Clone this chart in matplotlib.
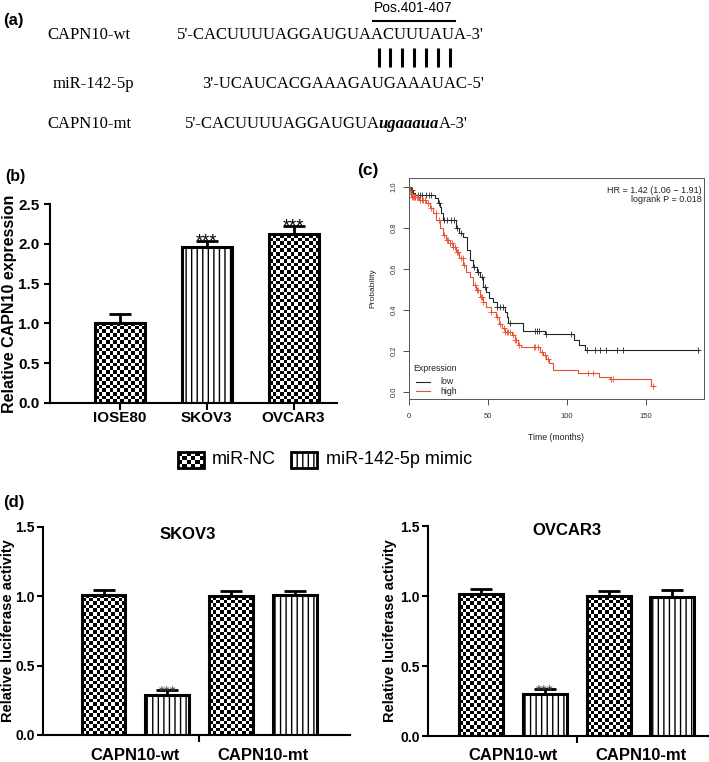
import numpy as np
import matplotlib
matplotlib.use("Agg")
import matplotlib.pyplot as plt
from matplotlib.patches import Rectangle

plt.rcParams['font.family'] = ['Liberation Sans', 'DejaVu Sans']
plt.rcParams['hatch.linewidth'] = 1.0

# ---- data ----
# (a) sequences
wt_name, mir_name, mt_name = 'CAPN10-wt', 'miR-142-5p', 'CAPN10-mt'
wt_pre, wt_site, wt_post = "5'-CACUUUUAGGAUGUA", "ACUUUAU", "A-3'"
mir_seq = "3'-UCAUCACGAAAGAUGAAAUAC-5'"
mt_pre, mt_site, mt_post = "5'-CACUUUUAGGAUGUA", "ugaaaua", "A-3'"
site_label = 'Pos.401-407'

# (b) qPCR
cells = ['IOSE80', 'SKOV3', 'OVCAR3']
capn10_expr = [1.01, 1.965, 2.12]
capn10_sd = [0.11, 0.07, 0.10]
capn10_sig = ['', '***', '***']

# (c) Kaplan-Meier, step times / survival after the step
low_t = [0, 1, 2.5, 4, 16.5, 18.5, 19.5, 20.5, 21.5, 30, 32, 34.5, 36.5, 38.5, 40.5, 43,
         45, 47, 49, 50.5, 53, 55.5, 61, 62, 63, 72.5, 86, 104.5, 108, 111.5]
low_s = [1.0, 0.985, 0.97, 0.96, 0.945, 0.92, 0.904, 0.875, 0.84, 0.80, 0.775, 0.758, 0.693,
         0.644, 0.611, 0.585, 0.562, 0.514, 0.49, 0.457, 0.44, 0.415, 0.39, 0.367, 0.336,
         0.30, 0.283, 0.254, 0.229, 0.205]
low_end = 184
low_cens = [2, 5.5, 7, 8, 11, 12.5, 14, 19, 22, 24, 26.5, 28.5, 30.5, 33, 41.5, 43.5, 44,
            46.5, 48, 55.5, 57.5, 59.5, 64, 80, 81, 82.5, 87, 103, 112.6, 117.9, 121, 124.8,
            131.6, 135.6, 183]
high_t = [0, 0.5, 1, 2, 6.5, 11, 13, 15, 17.2, 19.4, 21.5, 23.6, 25.7, 27.8, 30, 32, 34.2,
          36.3, 38.4, 40.5, 42.6, 44.7, 46.8, 49, 52, 55.3, 57, 59, 61, 65, 67, 69, 71, 83,
          85, 87, 89, 91, 107, 120.5, 127.5, 153.7]
high_s = [1.0, 0.985, 0.965, 0.953, 0.937, 0.92, 0.896, 0.872, 0.839, 0.80, 0.766, 0.741,
          0.727, 0.709, 0.685, 0.653, 0.62, 0.587, 0.562, 0.522, 0.498, 0.465, 0.44, 0.416,
          0.392, 0.367, 0.33, 0.31, 0.295, 0.278, 0.254, 0.229, 0.219, 0.197, 0.18, 0.161,
          0.14, 0.107, 0.094, 0.075, 0.063, 0.029]
high_end = 156
high_cens = [0.5, 1, 1.5, 2, 2.5, 3, 3.5, 4, 5, 6, 7, 8, 9, 10, 12, 14, 17, 19, 22, 24, 25,
             26, 27, 28, 29, 30.5, 31, 33, 34, 35, 42, 43, 44, 45.5, 46, 47, 52, 56, 58, 60,
             61, 62, 63, 64, 66, 67, 68, 70, 79, 80, 82, 84, 86, 88, 113.5, 116.5, 128, 129,
             154.7]
km_groups = ['low', 'high']
hr_text = 'HR = 1.42 (1.06 \u2212 1.91)\nlogrank P = 0.018'

# (d) luciferase
groups = ['CAPN10-wt', 'CAPN10-mt']
legend_labels = ['miR-NC', 'miR-142-5p mimic']
skov3_nc, skov3_nc_sd = [1.01, 1.00], [0.035, 0.038]
skov3_mimic, skov3_mimic_sd = [0.288, 1.01], [0.037, 0.025]
ovcar3_nc, ovcar3_nc_sd = [1.012, 1.00], [0.038, 0.036]
ovcar3_mimic, ovcar3_mimic_sd = [0.298, 0.99], [0.038, 0.053]

W, H = 709, 762
fig = plt.figure(figsize=(W / 100, H / 100), dpi=100)


def rect(x0, y0, x1, y1):
    # pixel box (y from top) -> figure fraction
    return [x0 / W, 1 - y1 / H, (x1 - x0) / W, (y1 - y0) / H]


def checker_fill(ax, x0, x1, y0, y1, cell=3.6, z=1.5):
    p0 = ax.transData.transform((x0, y0))
    p1 = ax.transData.transform((x1, y1))
    nx = max(1, int(round(abs(p1[0] - p0[0]) / cell)))
    ny = max(1, int(round(abs(p1[1] - p0[1]) / cell)))
    grid = np.indices((ny, nx)).sum(axis=0) % 2
    ax.imshow(grid, cmap='binary', vmin=0, vmax=1, extent=(x0, x1, y0, y1), origin='lower',
              aspect='auto', interpolation='nearest', zorder=z)


def prism_axes(ax, ylim, yticks, lab_size, pad=3.5):
    ax.spines['top'].set_visible(False)
    ax.spines['right'].set_visible(False)
    for s in ('left', 'bottom'):
        ax.spines[s].set_linewidth(1.5)
    ax.set_ylim(*ylim)
    ax.set_yticks(yticks)
    ax.set_yticklabels(['%.1f' % v for v in yticks], fontweight='bold', fontsize=lab_size)
    ax.tick_params(axis='both', which='major', width=1.5, length=5, direction='out')
    ax.tick_params(axis='y', length=4, pad=pad)


# ---- (a) ----
ax_a = fig.add_axes([0, 0, 1, 1], zorder=-1)
ax_a.set_xlim(0, W)
ax_a.set_ylim(H, 0)
ax_a.axis('off')
seq_font = dict(family='Liberation Serif', fontsize=12, va='center')
ax_a.text(3, 20, '(a)', fontweight='bold', fontsize=12, va='center')
ax_a.text(47, 35, wt_name, **seq_font)
ax_a.text(53, 84, mir_name, **seq_font)
ax_a.text(47, 124, mt_name, **seq_font)

ax_a.text(177, 35, wt_pre + wt_site + wt_post, **seq_font)
ax_a.text(202, 84, mir_seq, **seq_font)

fig.canvas.draw()
renderer = fig.canvas.get_renderer()


def text_w(s, **kw):
    tmp = ax_a.text(0, 0, s, **kw)
    w = tmp.get_window_extent(renderer).width
    tmp.remove()
    return w


# site chars of the wild type: overline + pairing bars
edges = [177 + text_w(wt_pre + wt_site[:k], **seq_font) for k in range(len(wt_site) + 1)]
ax_a.plot([edges[0] + 1, edges[-1]], [21, 21], color='black', lw=1.5)
ax_a.text((edges[0] + edges[-1]) / 2, 8, site_label, fontsize=10, ha='center', va='center')
for k in range(len(wt_site)):
    xc = (edges[k] + edges[k + 1]) / 2 + 0.5
    ax_a.plot([xc, xc], [48, 67], color='black', lw=2.2, solid_capstyle='butt')

# mutant: bold italic site
x = 185
ax_a.text(x, 124, mt_pre, **seq_font)
x += text_w(mt_pre, **seq_font) - 1.5
ax_a.text(x, 124, mt_site, fontweight='bold', fontstyle='italic', **seq_font)
x += text_w(mt_site, fontweight='bold', fontstyle='italic', **seq_font) - 0.5
ax_a.text(x, 124, mt_post, **seq_font)

ax_a.text(5, 176, '(b)', fontweight='bold', fontsize=11.5, va='center')
ax_a.text(357, 170, '(c)', fontweight='bold', fontsize=12.5, va='center')
ax_a.text(3, 503, '(d)', fontweight='bold', fontsize=12, va='center')

# ---- (b) ----
ax_b = fig.add_axes(rect(50, 204, 337, 403))
prism_axes(ax_b, (0, 2.5), np.arange(0, 2.51, 0.5), 11)
xb = np.arange(len(cells))
ax_b.set_xlim(-0.8, 2.5)
bw = 0.575
bars = ax_b.bar(xb, capn10_expr, width=bw, color='white', edgecolor='black', linewidth=2.2, zorder=2)
bars[1].set_hatch('|||')
for i in (0, 2):
    bars[i].set_facecolor('none')
    checker_fill(ax_b, xb[i] - bw / 2, xb[i] + bw / 2, 0, capn10_expr[i])
ax_b.errorbar(xb, capn10_expr, yerr=[np.zeros(len(cells)), capn10_sd], fmt='none', ecolor='black',
              elinewidth=2, capsize=8, capthick=2, zorder=1)
for i, s in enumerate(capn10_sig):
    if s:
        ax_b.annotate(s, xy=(xb[i], capn10_expr[i] + capn10_sd[i]), xytext=(0, -4),
                      textcoords='offset points', ha='center', va='baseline', fontsize=13)
ax_b.set_xlim(-0.8, 2.5)
ax_b.set_ylim(0, 2.5)
ax_b.set_xticks(xb)
ax_b.set_xticklabels(cells, fontweight='bold', fontsize=11)
ax_b.tick_params(axis='x', pad=1)
ax_b.set_ylabel('Relative CAPN10 expression', fontweight='bold', fontsize=11.5)
ax_b.yaxis.set_label_coords(-33 / 287, 0.5)

# ---- (c) ----
ax_c = fig.add_axes(rect(409, 178, 704, 399))
low_col, high_col = '#262626', '#E8502F'
ax_c.step(np.append(low_t, low_end), np.append(low_s, low_s[-1]), where='post',
          color=low_col, lw=0.8)
ax_c.step(np.append(high_t, high_end), np.append(high_s, high_s[-1]), where='post',
          color=high_col, lw=0.8)
for tt, ss, cens, col in [(low_t, low_s, low_cens, low_col), (high_t, high_s, high_cens, high_col)]:
    idx = np.searchsorted(tt, cens, side='right') - 1
    ax_c.plot(cens, np.array(ss)[idx], '+', ms=4.5, mew=0.6, color=col)
ax_c.set_xlim(0, 187)
ax_c.set_ylim(-0.034, 1.044)
ax_c.set_xticks([0, 50, 100, 150])
ax_c.set_yticks(np.arange(0, 1.01, 0.2))
ax_c.set_yticklabels(['%.1f' % v for v in np.arange(0, 1.01, 0.2)])
for s in ax_c.spines.values():
    s.set_linewidth(0.7)
    s.set_color('#555555')
ax_c.tick_params(axis='both', labelsize=5.5, length=4, width=0.6, colors='#333333', pad=6)
ax_c.tick_params(axis='y', labelrotation=90, pad=4)
for lab in ax_c.get_yticklabels():
    lab.set_va('center')
ax_c.set_xlabel('Time (months)', fontsize=6.3, color='#222222')
ax_c.xaxis.set_label_coords(0.5, -34 / 221)
ax_c.set_ylabel('Probability', fontsize=6, color='#222222')
ax_c.yaxis.set_label_coords(-33 / 295, 0.5)
ax_c.text(0.993, 0.965, hr_text, transform=ax_c.transAxes, ha='right', va='top', fontsize=6.5,
          color='#222222', linespacing=1.1)
# R style legend, bottom left
ax_c.text(0.014, 0.136, 'Expression', transform=ax_c.transAxes, va='center', fontsize=6.3,
          color='#222222')
for yy, lab, col in [(0.077, km_groups[0], low_col), (0.036, km_groups[1], high_col)]:
    ax_c.plot([0.023, 0.071], [yy, yy], transform=ax_c.transAxes, color=col, lw=0.8)
    ax_c.text(0.108, yy, lab, transform=ax_c.transAxes, va='center', fontsize=6.3, color='#222222')

# ---- legend for (d) ----
ax_leg = fig.add_axes(rect(0, 440, W, 480))
ax_leg.set_xlim(0, W)
ax_leg.set_ylim(40, 0)
ax_leg.axis('off')
checker_fill(ax_leg, 178, 204, 28, 12, cell=4.5, z=1)
ax_leg.add_patch(Rectangle((178, 12), 26, 16, fill=False, edgecolor='black', lw=2, zorder=2))
ax_leg.add_patch(Rectangle((291, 12), 26, 16, facecolor='white', edgecolor='black', lw=2,
                           hatch='|||', zorder=2))
ax_leg.set_xlim(0, W)
ax_leg.set_ylim(40, 0)
ax_leg.text(212, 20, legend_labels[0], fontsize=13, va='center')
ax_leg.text(326, 20, legend_labels[1], fontsize=13, va='center')


# ---- (d) ----
def luc_panel(box, title, title_x, title_y, nc, nc_sd, mimic, mimic_sd, xlim, lab_dx):
    ax = fig.add_axes(rect(*box))
    prism_axes(ax, (0, 1.5), [0, 0.5, 1.0, 1.5], 10, pad=2)
    ax.set_xlim(*xlim)
    pos = np.arange(4)
    vals = [nc[0], mimic[0], nc[1], mimic[1]]
    sds = [nc_sd[0], mimic_sd[0], nc_sd[1], mimic_sd[1]]
    bw = 0.69
    bars = ax.bar(pos, vals, width=bw, color='white', edgecolor='black', linewidth=2.2, zorder=2)
    for i in (1, 3):
        bars[i].set_hatch('|||')
    for i in (0, 2):
        bars[i].set_facecolor('none')
        checker_fill(ax, pos[i] - bw / 2, pos[i] + bw / 2, 0, vals[i])
    ax.errorbar(pos, vals, yerr=[np.zeros(4), sds], fmt='none', ecolor='black', elinewidth=2,
                capsize=8, capthick=2, zorder=1)
    ax.annotate('***', xy=(pos[1], vals[1] + sds[1]), xytext=(0, -4), textcoords='offset points',
                ha='center', va='baseline', fontsize=11, color='#444444')
    ax.set_xlim(*xlim)
    ax.set_ylim(0, 1.5)
    ax.set_xticks([1.5])
    ax.set_xticklabels([''])
    ax.set_xticks([0.5, 2.5], minor=True)
    ax.set_xticklabels(groups, minor=True, fontweight='bold', fontsize=12)
    ax.tick_params(axis='x', which='minor', length=0, pad=9)
    ax.text(title_x, title_y, title, transform=ax.transAxes, ha='center', va='center',
            fontweight='bold', fontsize=12)
    ax.set_ylabel('Relative luciferase activity', fontweight='bold', fontsize=10.5)
    ax.yaxis.set_label_coords(lab_dx, 0.5)
    return ax


luc_panel((43, 527, 350, 735), 'SKOV3', 0.472, 0.966, skov3_nc, skov3_nc_sd,
          skov3_mimic, skov3_mimic_sd, (-0.95, 3.87), -28 / 307)
luc_panel((428, 526, 708, 736), 'OVCAR3', 0.496, 0.98, ovcar3_nc, ovcar3_nc_sd,
          ovcar3_mimic, ovcar3_mimic_sd, (-0.84, 3.56), -31 / 280)

fig.savefig('out.png', dpi=100)
